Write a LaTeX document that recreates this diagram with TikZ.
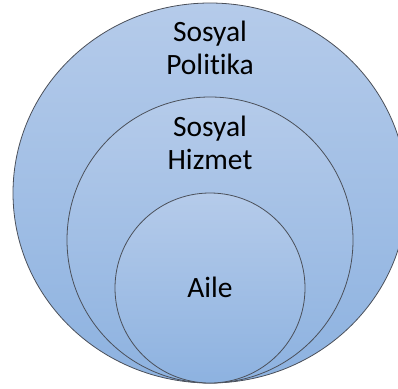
\documentclass[tikz,border=0pt]{standalone}
\usepackage{fontspec}
\setmainfont{Carlito}[Ligatures=NoCommon]
\usetikzlibrary{shapes.geometric}
\definecolor{ctop}{RGB}{181,203,234}
\definecolor{cbot}{RGB}{141,178,224}
\definecolor{cline}{RGB}{75,80,90}
\tikzset{
  ring/.style={draw=cline, line width=0.8pt, inner sep=0pt, top color=ctop, bottom color=cbot},
  label/.style={align=center, font=\fontsize{29.5}{32.5}\selectfont, text=black, inner sep=0pt}
}
\begin{document}
\begin{tikzpicture}[x=1pt,y=-1pt]
\useasboundingbox (0,0) rectangle (398,388);
\clip (0,0) rectangle (398,388);
\node[ring, ellipse, minimum width=394pt, minimum height=380pt] (outer) at (210,193) {};
\node[ring, circle, minimum size=286pt] (middle) at (210,240) {};
\node[ring, circle, minimum size=190pt] (inner) at (210,288) {};
\node[label] (t1) at (210,48) {Sosyal\\Polit\kern0pt ika};
\node[label] (t2) at (210,143) {Sosyal\\Hizmet};
\node[label] (t3) at (210,287) {Aile};
\end{tikzpicture}
\end{document}
